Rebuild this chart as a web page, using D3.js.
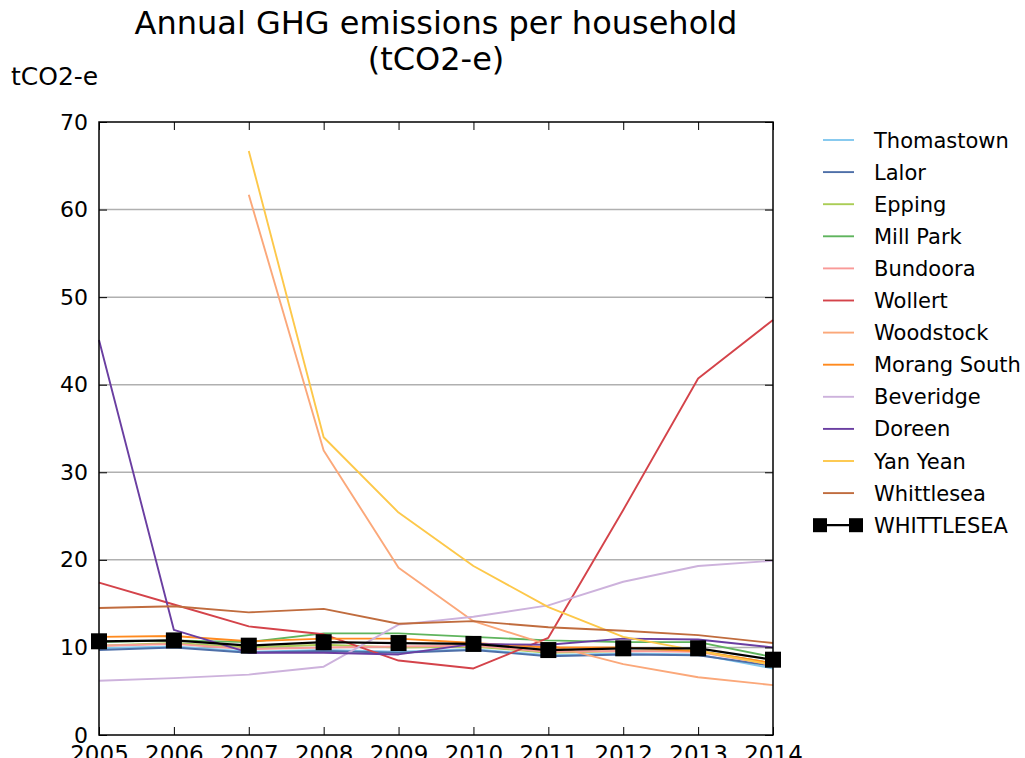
<!DOCTYPE html>
<html>
<head>
<meta charset="utf-8">
<script src="https://cdn.jsdelivr.net/npm/d3@7"></script>
<style>
  html, body { margin: 0; padding: 0; background: #fff; }
  svg { display: block; font-family: "DejaVu Sans", sans-serif; }
</style>
</head>
<body>
<svg id="chart" width="1025" height="758"></svg>
<script>
// Years on the x axis
const years = [2005, 2006, 2007, 2008, 2009, 2010, 2011, 2012, 2013, 2014];
const yTicks = [0, 10, 20, 30, 40, 50, 60, 70];

// Suburb series (tCO2-e per household); null = no data
const thomastown  = [9.9, 10.1, 9.5, 9.7, 9.5, 9.8, 9.1, 9.3, 9.2, 7.6];
const lalor       = [9.7, 10.0, 9.4, 9.6, 9.4, 9.7, 9.0, 9.2, 9.1, 7.9];
const epping      = [10.2, 10.5, 10.0, 10.3, 10.0, 10.1, 9.4, 9.6, 9.6, 8.2];
const millPark    = [10.6, 10.8, 10.6, 11.6, 11.6, 11.2, 10.8, 10.6, 10.6, 8.9];
const bundoora    = [10.2, 10.4, 9.8, 10.0, 10.1, 10.2, 9.5, 9.6, 9.5, 8.0];
const wollert     = [17.4, 14.9, 12.4, 11.5, 8.5, 7.6, 11.1, 25.7, 40.7, 47.4];
const woodstock   = [null, null, 61.7, 32.5, 19.1, 13.0, 10.3, 8.1, 6.6, 5.7];
const morangSouth = [11.2, 11.3, 10.7, 11.0, 11.0, 10.5, 10.0, 10.0, 9.6, 8.2];
const beveridge   = [6.2, 6.5, 6.9, 7.8, 12.6, 13.5, 14.8, 17.5, 19.3, 19.9];
const doreen      = [45.1, 12.0, 9.4, 9.4, 9.2, 10.4, 10.3, 11.0, 10.9, 10.0];
const yanYean     = [null, null, 66.7, 34.0, 25.4, 19.3, 14.6, 11.2, 9.6, 8.0];
const whittlesea  = [14.5, 14.7, 14.0, 14.4, 12.7, 13.0, 12.3, 11.9, 11.4, 10.5];
const WHITTLESEA  = [10.7, 10.8, 10.2, 10.6, 10.5, 10.4, 9.7, 9.9, 9.9, 8.6];

const seriesNames = ["Thomastown", "Lalor", "Epping", "Mill Park", "Bundoora", "Wollert",
  "Woodstock", "Morang South", "Beveridge", "Doreen", "Yan Yean", "Whittlesea", "WHITTLESEA"];
const seriesValues = [thomastown, lalor, epping, millPark, bundoora, wollert,
  woodstock, morangSouth, beveridge, doreen, yanYean, whittlesea, WHITTLESEA];
const seriesColors = ["#82c8ef", "#4e6fa8", "#aacd55", "#5fb45d", "#f99a98", "#d4434a",
  "#fba87a", "#ff8a1e", "#cdb2dc", "#6a3ea1", "#fdc84a", "#c06c3e", "#000000"];

const svg = d3.select("#chart");
const margin = { left: 99, right: 252, top: 122, bottom: 23 };
const W = 1025, H = 758;
const plotW = W - margin.left - margin.right;
const plotH = H - margin.top - margin.bottom;

const x = d3.scaleLinear().domain([2005, 2014]).range([margin.left, margin.left + plotW]);
const y = d3.scaleLinear().domain([0, 70]).range([margin.top + plotH, margin.top]);

// Horizontal gridlines
svg.append("g")
  .selectAll("line").data(yTicks.slice(1, -1)).join("line")
  .attr("x1", margin.left).attr("x2", margin.left + plotW)
  .attr("y1", d => y(d)).attr("y2", d => y(d))
  .attr("stroke", "#b0b0b0").attr("stroke-width", 1.5);

// Series lines
const line = d3.line()
  .defined(d => d.v !== null)
  .x(d => x(d.year)).y(d => y(d.v));

const plot = svg.append("g");
seriesNames.forEach((name, i) => {
  const pts = years.map((yr, j) => ({ year: yr, v: seriesValues[i][j] }));
  const isTotal = name === "WHITTLESEA";
  plot.append("path")
    .datum(pts)
    .attr("d", line)
    .attr("fill", "none")
    .attr("stroke", seriesColors[i])
    .attr("stroke-width", isTotal ? 2.2 : 1.9)
    .attr("stroke-linejoin", "round");
  if (isTotal) {
    plot.selectAll(".marker").data(pts.filter(d => d.v !== null)).join("rect")
      .attr("class", "marker")
      .attr("x", d => x(d.year) - 8).attr("y", d => y(d.v) - 8)
      .attr("width", 16).attr("height", 16)
      .attr("fill", "#000");
  }
});

// Axes: ticks pointing inward on all four sides
const tickLen = 8;
svg.append("g")
  .attr("transform", `translate(0,${margin.top + plotH})`)
  .call(d3.axisBottom(x).tickValues(years).tickFormat(d3.format("d")).tickSizeInner(-tickLen).tickSizeOuter(0).tickPadding(11))
  .call(g => g.select(".domain").remove())
  .call(g => g.selectAll("text").attr("font-size", 23).attr("fill", "#000").attr("font-family", "DejaVu Sans"));

svg.append("g")
  .attr("transform", `translate(0,${margin.top})`)
  .call(d3.axisTop(x).tickValues(years).tickFormat("").tickSizeInner(-tickLen).tickSizeOuter(0))
  .call(g => g.select(".domain").remove());

svg.append("g")
  .attr("transform", `translate(${margin.left},0)`)
  .call(d3.axisLeft(y).tickValues(yTicks).tickSizeInner(-tickLen).tickSizeOuter(0).tickPadding(11))
  .call(g => g.select(".domain").remove())
  .call(g => g.selectAll("text").attr("font-size", 22).attr("fill", "#000").attr("font-family", "DejaVu Sans"));

svg.append("g")
  .attr("transform", `translate(${margin.left + plotW},0)`)
  .call(d3.axisRight(y).tickValues(yTicks).tickFormat("").tickSizeInner(-tickLen).tickSizeOuter(0))
  .call(g => g.select(".domain").remove());

svg.selectAll(".tick line").attr("stroke", "#000").attr("stroke-width", 1);

// Plot frame
svg.append("rect")
  .attr("x", margin.left).attr("y", margin.top)
  .attr("width", plotW).attr("height", plotH)
  .attr("fill", "none").attr("stroke", "#000").attr("stroke-width", 1.5);

// Title and unit label
const title = svg.append("text")
  .attr("x", margin.left + plotW / 2).attr("text-anchor", "middle")
  .attr("font-size", 32).attr("fill", "#000");
title.append("tspan").attr("x", margin.left + plotW / 2).attr("y", 34).text("Annual GHG emissions per household");
title.append("tspan").attr("x", margin.left + plotW / 2).attr("y", 70).text("(tCO2-e)");

svg.append("text")
  .attr("x", 11).attr("y", 85)
  .attr("font-size", 25).attr("fill", "#000")
  .text("tCO2-e");

// Legend
const legend = svg.append("g").attr("transform", "translate(823,140)");
seriesNames.forEach((name, i) => {
  const row = legend.append("g").attr("transform", `translate(0,${i * 32.1})`);
  const isTotal = name === "WHITTLESEA";
  row.append("line")
    .attr("x1", isTotal ? -3 : 0).attr("x2", isTotal ? 33 : 31)
    .attr("stroke", seriesColors[i]).attr("stroke-width", isTotal ? 2.2 : 1.9);
  if (isTotal) {
    [-3, 33].forEach(cx => row.append("rect")
      .attr("x", cx - 7).attr("y", -7).attr("width", 14).attr("height", 14).attr("fill", "#000"));
  }
  row.append("text")
    .attr("x", 51).attr("y", 7.5)
    .attr("font-size", 21).attr("fill", "#000")
    .text(name);
});
</script>
</body>
</html>
